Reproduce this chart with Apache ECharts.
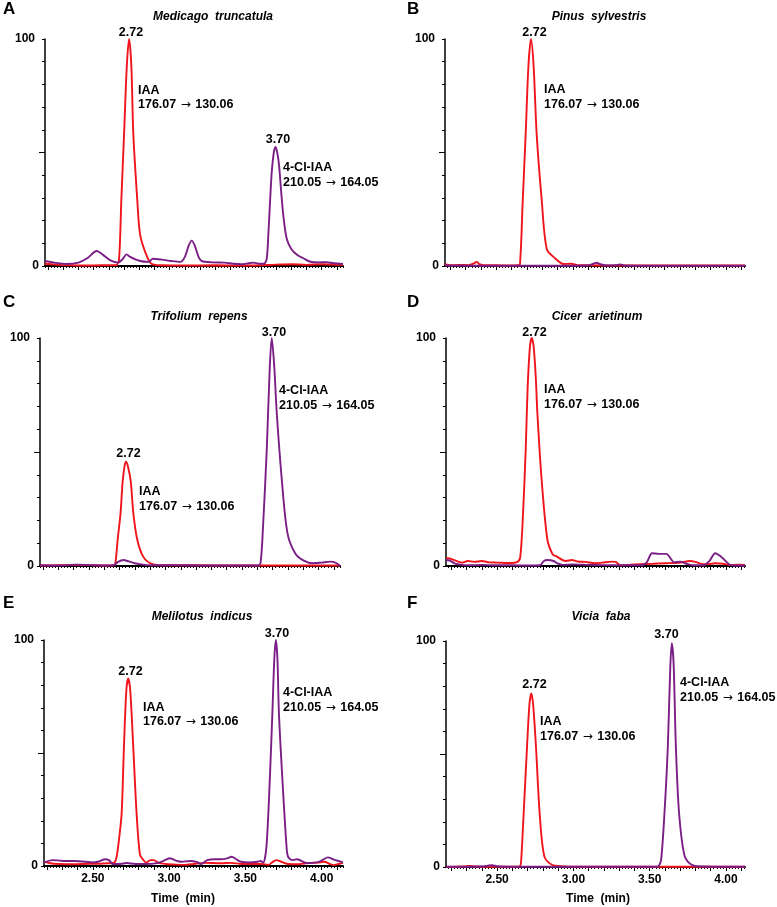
<!DOCTYPE html>
<html><head><meta charset="utf-8">
<script src="https://cdn.jsdelivr.net/npm/echarts@6/dist/echarts.min.js"></script>
<style>html,body{margin:0;padding:0;background:#fff}#c{width:777px;height:907px}</style>
</head><body><div id="c"></div>
<script>
// ---------------- data ----------------
const panelLetters = ['A', 'B', 'C', 'D', 'E', 'F'];
const species = ['Medicago  truncatula', 'Pinus  sylvestris', 'Trifolium  repens', 'Cicer  arietinum', 'Melilotus  indicus', 'Vicia  faba'];
const xTickLabels = [2.5, 3.0, 3.5, 4.0];
const yTickLabels = [0, 100];
const iaaName = 'IAA';
const iaaTransition = ['176.07', '130.06'];
const clName = '4-Cl-IAA';
const clTransition = ['210.05', '164.05'];
const iaaRt = '2.72';
const clRt = '3.70';

// [time (min), relative intensity (%)]
const iaaA = [[2.18,1.0],[2.25,0.6],[2.35,0.3],[2.45,0.2],[2.55,0.3],[2.62,0.3],[2.65,0.4],[2.667,3],[2.682,29],[2.70,58],[2.718,88],[2.733,100],[2.748,88],[2.761,58],[2.787,29],[2.805,14],[2.84,6],[2.88,1],[2.95,0.3],[3.1,0.2],[3.3,0.3],[3.5,0.2],[3.7,0.6],[3.8,0.8],[3.9,0.5],[4.0,0.8],[4.14,0.4]];
const clA = [[2.18,2.2],[2.24,1.5],[2.32,0.9],[2.40,1.5],[2.46,3.5],[2.52,6.6],[2.56,5],[2.61,2.5],[2.66,1.5],[2.69,3],[2.717,5.1],[2.74,4],[2.80,2.3],[2.86,1.8],[2.89,3.2],[2.95,2.8],[3.01,2.2],[3.07,1.8],[3.10,4],[3.125,9],[3.145,11.2],[3.165,9],[3.19,4],[3.21,2.2],[3.28,1.6],[3.36,1.5],[3.42,1],[3.47,0.8],[3.52,1.2],[3.55,1.5],[3.59,1],[3.62,1],[3.638,3],[3.649,14],[3.66,28],[3.671,41],[3.685,50],[3.697,52.5],[3.71,49],[3.72,44],[3.733,33],[3.748,22],[3.77,12],[3.80,7.5],[3.84,4.8],[3.88,3.4],[3.92,2],[3.98,1.6],[4.03,1.7],[4.08,1.2],[4.14,0.9]];

const iaaB = [[2.165,0.8],[2.20,0.3],[2.26,0.5],[2.32,0.4],[2.35,1],[2.372,1.8],[2.39,0.8],[2.42,0.3],[2.50,0.3],[2.58,0.2],[2.64,0.3],[2.655,1],[2.673,29],[2.692,58],[2.71,88],[2.727,100],[2.744,88],[2.764,58],[2.797,29],[2.83,7.5],[2.884,3.4],[2.94,0.9],[2.99,1],[3.03,0.4],[3.10,0.3],[3.3,0.2],[3.6,0.2],[3.9,0.2],[4.125,0.2]];
const clB = [[2.165,0.2],[2.5,0.1],[2.8,0.1],[3.10,0.2],[3.135,1],[3.156,1.4],[3.18,0.8],[3.22,0.2],[3.28,0.3],[3.31,0.7],[3.34,0.2],[3.6,0.1],[4.125,0.1]];

const iaaC = [[2.18,0.2],[2.4,0.5],[2.5,0.4],[2.6,0.2],[2.66,0.3],[2.672,1],[2.688,12],[2.706,23],[2.72,37],[2.733,44],[2.742,45.7],[2.755,43.5],[2.773,37],[2.79,23],[2.816,11.4],[2.855,4],[2.91,0.9],[2.98,0.3],[3.2,0.3],[3.5,0.2],[3.8,0.2],[4.14,0.2]];
const clC = [[2.18,0.3],[2.3,0.2],[2.42,0.6],[2.48,0.5],[2.55,0.3],[2.62,0.2],[2.665,0.5],[2.69,1.8],[2.725,2.6],[2.76,2],[2.80,1.2],[2.85,0.6],[2.90,0.3],[3.0,0.3],[3.05,0.4],[3.15,0.3],[3.3,0.2],[3.45,0.2],[3.6,0.2],[3.62,1],[3.636,15.8],[3.662,52],[3.68,85],[3.694,100],[3.71,88],[3.727,67],[3.76,37.7],[3.797,14.3],[3.847,5.6],[3.90,2.5],[3.966,1.2],[4.02,1.5],[4.075,1.9],[4.11,1.5],[4.14,0]];

const iaaD = [[2.165,3.4],[2.18,3.4],[2.21,2.8],[2.24,2],[2.27,1.5],[2.307,2.2],[2.35,1.8],[2.40,2.2],[2.45,1.6],[2.50,1.5],[2.58,1.3],[2.634,1.8],[2.652,4],[2.67,23],[2.688,52],[2.70,78],[2.715,96],[2.727,100],[2.74,96],[2.754,82],[2.764,67],[2.792,37.7],[2.83,11.4],[2.865,5],[2.884,4.4],[2.95,2.2],[2.99,2.6],[3.03,2],[3.08,1.8],[3.14,1.2],[3.19,1.5],[3.254,1.9],[3.276,1.8],[3.31,0.3],[3.36,0.5],[3.44,0.8],[3.52,1],[3.60,1.2],[3.69,1.4],[3.766,2.2],[3.80,1.8],[3.85,0.8],[3.885,0.8],[3.93,1.2],[3.98,1],[4.03,0.4],[4.08,0.6],[4.125,0.5]];
const clD = [[2.165,2.6],[2.19,2.4],[2.22,1.2],[2.26,0.6],[2.30,0.3],[2.40,0.5],[2.50,0.3],[2.60,0.3],[2.70,0.2],[2.78,0.3],[2.807,2.2],[2.83,2.6],[2.87,2.2],[2.90,1],[2.93,0.5],[3.0,0.7],[3.1,0.5],[3.2,0.4],[3.3,0.3],[3.44,0.3],[3.48,1.5],[3.516,5.6],[3.56,5.3],[3.61,5.3],[3.64,3],[3.66,1.6],[3.70,1.9],[3.74,1],[3.78,0.3],[3.85,0.3],[3.89,2],[3.93,5.6],[3.97,4],[4.0,2],[4.03,0.4],[4.07,0.2],[4.125,0.1]];

const iaaE = [[2.18,1.9],[2.22,1.2],[2.28,0.9],[2.38,0.8],[2.48,1],[2.55,1],[2.60,1.2],[2.64,1.5],[2.656,4.1],[2.672,12],[2.689,23.3],[2.704,52.8],[2.72,78],[2.732,83],[2.745,78],[2.765,52.8],[2.787,23.3],[2.809,5],[2.83,2.8],[2.85,1.5],[2.877,2.6],[2.90,2.6],[2.93,1.4],[2.98,0.9],[3.05,0.6],[3.1,0.5],[3.16,0.9],[3.23,1.4],[3.344,1.2],[3.40,1.4],[3.48,0.9],[3.53,0.9],[3.605,0.9],[3.65,0.5],[3.68,1.8],[3.704,2.6],[3.73,2],[3.78,0.9],[3.85,0.8],[3.93,1.4],[3.97,1.5],[4.02,1.9],[4.05,1],[4.08,0.4],[4.11,0.9],[4.14,1.4]];
const clE = [[2.18,1.5],[2.236,2.6],[2.28,2.4],[2.32,2.2],[2.38,2.2],[2.45,1.9],[2.50,1.6],[2.54,2],[2.58,3],[2.61,2.4],[2.63,0.9],[2.68,0.9],[2.72,1.3],[2.78,0.9],[2.85,0.9],[2.92,1.3],[2.96,2.2],[3.005,3.4],[3.04,2.5],[3.08,1.9],[3.14,2.2],[3.18,1.8],[3.21,0.9],[3.25,2.6],[3.30,3],[3.34,3],[3.38,3.4],[3.41,4.1],[3.44,3],[3.47,1.9],[3.53,1.6],[3.58,1.9],[3.60,2.2],[3.617,1.5],[3.638,8.5],[3.66,38],[3.677,67.6],[3.69,92],[3.70,100],[3.71,92],[3.72,67.6],[3.743,38],[3.77,8.5],[3.78,4.1],[3.81,2.6],[3.84,3],[3.90,1.3],[3.97,1.6],[4.01,2.8],[4.04,3.8],[4.08,2.8],[4.14,1.6]];

const iaaF = [[2.165,0],[2.28,0.2],[2.32,0.5],[2.36,0.2],[2.45,0.1],[2.55,0.1],[2.64,0.1],[2.652,0.5],[2.658,3],[2.674,23.7],[2.696,53],[2.712,72],[2.724,76.8],[2.736,72],[2.755,53],[2.779,23.7],[2.81,4.6],[2.86,1],[2.94,0.3],[3.0,0.1],[3.3,0.1],[3.6,0.1],[4.125,0.1]];
const clF = [[2.165,0.1],[2.40,0.2],[2.44,0.6],[2.466,0.8],[2.50,0.3],[2.6,0.1],[3.0,0.1],[3.4,0.1],[3.55,0.1],[3.56,0.5],[3.575,3],[3.597,23.7],[3.619,53],[3.635,88],[3.645,99],[3.657,90],[3.672,53],[3.693,23.7],[3.73,4.6],[3.78,0.8],[3.85,0.2],[4.125,0.1]];

const iaaSeries = [iaaA, iaaB, iaaC, iaaD, iaaE, iaaF];
const clSeries = [clA, clB, clC, clD, clE, clF];

// ---------------- layout ----------------
const FONT = '"Liberation Sans", Arial, Helvetica, sans-serif';
const RED = '#f0141c';
const PURPLE = '#7b1f86';
const grids = [
  {left: 45, top: 39, width: 298, height: 227, min: 2.18, max: 4.14},
  {left: 445, top: 39, width: 300, height: 227, min: 2.165, max: 4.125},
  {left: 40, top: 338, width: 300, height: 228, min: 2.18, max: 4.14},
  {left: 446, top: 338, width: 299, height: 228, min: 2.165, max: 4.125},
  {left: 44, top: 640, width: 299, height: 226, min: 2.18, max: 4.14},
  {left: 446, top: 641, width: 299, height: 226, min: 2.165, max: 4.125}
];

function steps(a, b, s) {
  const out = [];
  for (let k = 0; a + k * s <= b + 1e-9; k++) out.push(+(a + k * s).toFixed(3));
  return out;
}
const yMajor = steps(0, 100, 10);

const option = {
  backgroundColor: '#fff',
  animation: false,
  grid: grids.map(g => ({left: g.left, top: g.top, width: g.width, height: g.height, containLabel: false, outerBoundsMode: 'none'})),
  xAxis: [],
  yAxis: [],
  series: [],
  graphic: {elements: []}
};

grids.forEach((g, i) => {
  const bottomRow = i >= 4;
  const firstTick = Math.ceil(g.min * 10 - 1e-9) / 10;
  const firstMinor = Math.ceil(g.min * 50 - 1e-9) / 50;
  option.xAxis.push({
    gridIndex: i, type: 'value', position: 'bottom', min: g.min, max: g.max,
    axisLine: {show: true, onZero: false, lineStyle: {color: '#000', width: 2}},
    axisTick: {show: true, customValues: steps(firstTick, g.max, 0.1), length: 4, lineStyle: {color: '#000', width: 1}},
    axisLabel: {show: bottomRow, customValues: xTickLabels, formatter: v => Number(v).toFixed(2),
      color: '#000', fontWeight: 'bold', fontSize: 12, fontFamily: FONT, margin: 7},
    splitLine: {show: false}
  });
  option.xAxis.push({
    gridIndex: i, type: 'value', position: 'bottom', min: g.min, max: g.max,
    axisLine: {show: false, onZero: false},
    axisTick: {show: true, customValues: steps(firstMinor, g.max, 0.02), length: 2, lineStyle: {color: '#000', width: 1}},
    axisLabel: {show: false},
    splitLine: {show: false}
  });
  option.yAxis.push({
    gridIndex: i, type: 'value', position: 'left', min: 0, max: 100,
    axisLine: {show: true, onZero: false, lineStyle: {color: '#000', width: 1.5}},
    axisTick: {show: true, customValues: yMajor, length: 3, lineStyle: {color: '#000', width: 1}},
    axisLabel: {show: true, customValues: yTickLabels, margin: 6,
      formatter: v => (v === 100 ? '{h|100}' : '{z|' + v + '}'),
      rich: {
        h: {color: '#000', fontWeight: 'bold', fontSize: 12, fontFamily: FONT, padding: [0, 4, 0, 0]},
        z: {color: '#000', fontWeight: 'bold', fontSize: 12, fontFamily: FONT}
      }},
    splitLine: {show: false}
  });
  option.yAxis.push({
    gridIndex: i, type: 'value', position: 'left', min: 0, max: 100,
    axisLine: {show: false, onZero: false},
    axisTick: {show: true, customValues: [50], length: 6, lineStyle: {color: '#000', width: 1}},
    axisLabel: {show: false},
    splitLine: {show: false}
  });
  option.series.push({
    type: 'line', xAxisIndex: 2 * i, yAxisIndex: 2 * i, data: iaaSeries[i],
    showSymbol: false, smooth: 0.3, lineStyle: {color: RED, width: 1.9}, z: 3, silent: true
  });
  option.series.push({
    type: 'line', xAxisIndex: 2 * i, yAxisIndex: 2 * i, data: clSeries[i],
    showSymbol: false, smooth: 0.3, lineStyle: {color: PURPLE, width: 1.9}, z: 4, silent: true
  });
});

// ---------------- texts ----------------
const T = option.graphic.elements;
function txt(x, y, s, font, align, rich) {
  const style = {text: s, font: font, fill: '#000', textAlign: align || 'left', textVerticalAlign: 'middle',
    align: align || 'left', verticalAlign: 'middle'};
  if (rich) style.rich = rich;
  T.push({type: 'text', x: x, y: y, silent: true, style: style});
}
const fLetter = 'bold 17px ' + FONT;
const fTitle = 'italic bold 12px ' + FONT;
const fAnn = 'bold 12.5px ' + FONT;
const fAxis = 'bold 12px ' + FONT;
const arrowRich = {
  n: {font: fAnn, fill: '#000'},
  a: {font: '12px "DejaVu Sans", sans-serif', fill: '#000', padding: [0, 1, 0, 1]}
};
function transitionText(pair) { return '{n|' + pair[0] + ' }{a|\u2192}{n| ' + pair[1] + '}'; }

const letterPos = [[3, 9], [407, 9], [3, 302.5], [407, 302.5], [3, 603.5], [407, 603.5]];
const titlePos = [[213, 17], [599, 17], [199, 317], [597, 317], [202, 617], [601, 617]];
panelLetters.forEach((L, i) => txt(letterPos[i][0], letterPos[i][1], L, fLetter, 'left'));
species.forEach((s, i) => txt(titlePos[i][0], titlePos[i][1], s, fTitle, 'center'));

// IAA annotations: [rtCenterX, rtY, nameX, nameY, transY]
const iaaPos = [[131, 33, 138, 90.5, 105], [534.5, 32.5, 544, 89.5, 105], [128.5, 453.5, 139, 491.5, 507],
  [534.5, 332.5, 544, 390, 405], [130.5, 671.5, 143, 708, 722], [534.5, 684.5, 540, 722, 737]];
iaaPos.forEach(p => {
  txt(p[0], p[1], iaaRt, fAnn, 'center');
  txt(p[2], p[3], iaaName, fAnn, 'left');
  txt(p[2], p[4], transitionText(iaaTransition), fAnn, 'left', arrowRich);
});
// 4-Cl-IAA annotations (panels A, C, E, F)
const clPos = [[278, 140, 283, 168, 183], [274, 332.5, 279, 390.5, 406], [277, 633.5, 283, 693, 708], [666.5, 634.5, 680, 683, 698]];
clPos.forEach(p => {
  txt(p[0], p[1], clRt, fAnn, 'center');
  txt(p[2], p[3], clName, fAnn, 'left');
  txt(p[2], p[4], transitionText(clTransition), fAnn, 'left', arrowRich);
});
txt(183, 899, 'Time  (min)', fAxis, 'center');
txt(598, 899, 'Time  (min)', fAxis, 'center');

const chart = echarts.init(document.getElementById('c'), null, {renderer: 'canvas'});
chart.setOption(option);
</script>
</body></html>
